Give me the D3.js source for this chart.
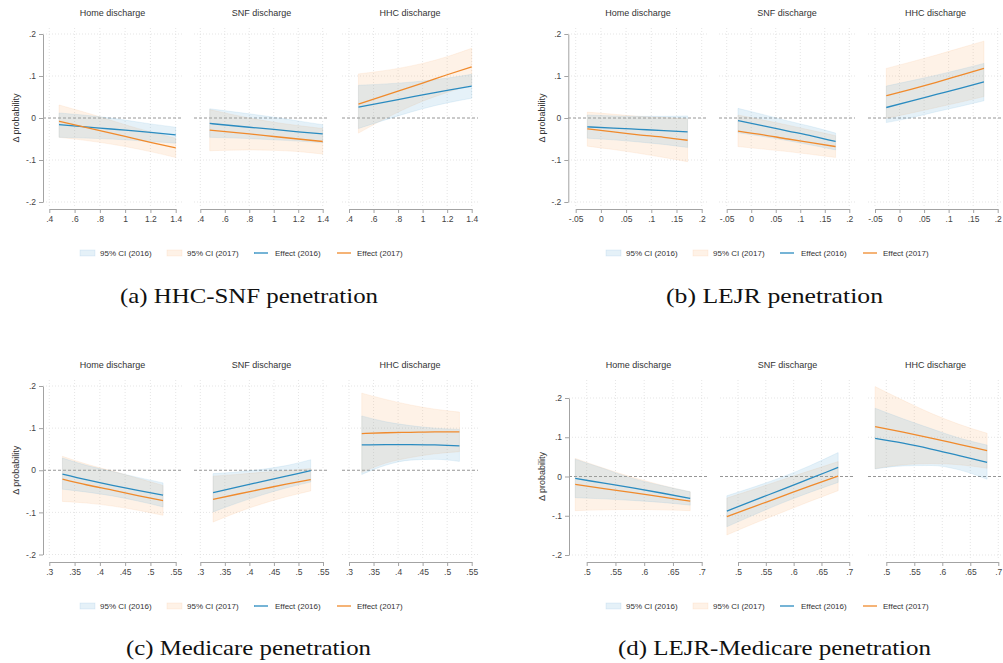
<!DOCTYPE html>
<html>
<head>
<meta charset="utf-8">
<script src="https://cdn.jsdelivr.net/npm/d3@7"></script>
<style>
  body { margin: 0; background: #fff; }
  svg { display: block; }
  text { font-family: "Liberation Sans", Arial, sans-serif; }
</style>
</head>
<body>
<svg id="chart" width="1003" height="663"></svg>
<script>
// ---------- data ----------
const subplotTitles = ["Home discharge", "SNF discharge", "HHC discharge"];
const captions = ["(a) HHC-SNF penetration", "(b) LEJR penetration",
                  "(c) Medicare penetration", "(d) LEJR-Medicare penetration"];
const legendLabels = ["95% CI (2016)", "95% CI (2017)", "Effect (2016)", "Effect (2017)"];
const yTicks = [-0.2, -0.1, 0, 0.1, 0.2];

const xTicksA = [0.4, 0.6, 0.8, 1, 1.2, 1.4];
const xTicksB = [-0.05, 0, 0.05, 0.1, 0.15, 0.2];
const xTicksC = [0.3, 0.35, 0.4, 0.45, 0.5, 0.55];
const xTicksD = [0.5, 0.55, 0.6, 0.65, 0.7];

// evaluation points of the penetration measure
const xA = [0.477, 0.8, 1.0, 1.2, 1.4];
const xB = [-0.027, 0.025, 0.075, 0.125, 0.172];
const xC = [0.326, 0.375, 0.425, 0.475, 0.525];
const xD = [0.48, 0.53, 0.58, 0.63, 0.68];

// (a) HHC-SNF penetration
const aHome = { eff16: [-0.016, -0.024, -0.029, -0.034, -0.040],
                lo16:  [-0.046, -0.049, -0.052, -0.056, -0.060],
                hi16:  [0.012, 0.003, -0.005, -0.014, -0.022],
                eff17: [-0.008, -0.030, -0.044, -0.058, -0.071],
                lo17:  [-0.046, -0.058, -0.068, -0.080, -0.094],
                hi17:  [0.031, 0.003, -0.016, -0.033, -0.048] };
const aSnf  = { eff16: [-0.013, -0.022, -0.027, -0.033, -0.038],
                lo16:  [-0.046, -0.049, -0.052, -0.055, -0.059],
                hi16:  [0.022, 0.010, 0.002, -0.007, -0.016],
                eff17: [-0.029, -0.038, -0.044, -0.050, -0.056],
                lo17:  [-0.078, -0.076, -0.077, -0.080, -0.086],
                hi17:  [0.020, 0.000, -0.010, -0.018, -0.025] };
const aHhc  = { eff16: [0.026, 0.044, 0.055, 0.066, 0.076],
                lo16:  [-0.025, 0.005, 0.022, 0.036, 0.047],
                hi16:  [0.078, 0.083, 0.088, 0.095, 0.104],
                eff17: [0.033, 0.064, 0.083, 0.103, 0.122],
                lo17:  [-0.036, 0.014, 0.040, 0.061, 0.079],
                hi17:  [0.105, 0.118, 0.130, 0.146, 0.166] };

// (b) LEJR penetration
const bHome = { eff16: [-0.021, -0.024, -0.027, -0.030, -0.033],
                lo16:  [-0.048, -0.052, -0.057, -0.063, -0.070],
                hi16:  [0.007, 0.005, 0.004, 0.004, 0.005],
                eff17: [-0.026, -0.033, -0.040, -0.046, -0.053],
                lo17:  [-0.067, -0.075, -0.084, -0.094, -0.104],
                hi17:  [0.014, 0.009, 0.004, 0.001, -0.002] };
const bSnf  = { eff16: [-0.006, -0.019, -0.031, -0.043, -0.056],
                lo16:  [-0.035, -0.044, -0.054, -0.065, -0.076],
                hi16:  [0.023, 0.008, -0.007, -0.021, -0.036],
                eff17: [-0.031, -0.040, -0.050, -0.059, -0.068],
                lo17:  [-0.068, -0.074, -0.080, -0.087, -0.094],
                hi17:  [0.007, -0.005, -0.017, -0.030, -0.042] };
const bHhc  = { eff16: [0.025, 0.041, 0.056, 0.071, 0.086],
                lo16:  [-0.011, 0.001, 0.015, 0.028, 0.041],
                hi16:  [0.076, 0.089, 0.102, 0.116, 0.130],
                eff17: [0.053, 0.069, 0.085, 0.102, 0.118],
                lo17:  [-0.001, 0.012, 0.025, 0.038, 0.051],
                hi17:  [0.118, 0.134, 0.150, 0.167, 0.183] };

// (c) Medicare penetration
const cHome = { eff16: [-0.009, -0.023, -0.036, -0.048, -0.059],
                lo16:  [-0.045, -0.052, -0.061, -0.073, -0.087],
                hi16:  [0.029, 0.011, -0.003, -0.017, -0.030],
                eff17: [-0.021, -0.035, -0.047, -0.060, -0.072],
                lo17:  [-0.074, -0.078, -0.085, -0.095, -0.107],
                hi17:  [0.033, 0.014, -0.002, -0.019, -0.036] };
const cSnf  = { eff16: [-0.053, -0.040, -0.027, -0.014, -0.001],
                lo16:  [-0.099, -0.078, -0.059, -0.042, -0.028],
                hi16:  [-0.008, -0.004, 0.002, 0.011, 0.025],
                eff17: [-0.069, -0.057, -0.045, -0.033, -0.022],
                lo17:  [-0.123, -0.100, -0.080, -0.063, -0.049],
                hi17:  [-0.014, -0.010, -0.005, -0.001, 0.004] };
const cHhc  = { eff16: [0.060, 0.061, 0.061, 0.060, 0.058],
                lo16:  [-0.010, 0.012, 0.024, 0.026, 0.021],
                hi16:  [0.129, 0.115, 0.106, 0.100, 0.097],
                eff17: [0.087, 0.089, 0.090, 0.091, 0.091],
                lo17:  [-0.005, 0.017, 0.030, 0.039, 0.044],
                hi17:  [0.183, 0.168, 0.155, 0.145, 0.138] };

// (d) LEJR-Medicare penetration
const dHome = { eff16: [-0.005, -0.017, -0.029, -0.042, -0.056],
                lo16:  [-0.054, -0.057, -0.061, -0.066, -0.073],
                hi16:  [0.044, 0.020, -0.005, -0.023, -0.039],
                eff17: [-0.020, -0.031, -0.041, -0.052, -0.063],
                lo17:  [-0.087, -0.085, -0.084, -0.085, -0.087],
                hi17:  [0.046, 0.021, -0.002, -0.022, -0.039] };
const dSnf  = { eff16: [-0.088, -0.060, -0.033, -0.005, 0.023],
                lo16:  [-0.128, -0.097, -0.067, -0.040, -0.015],
                hi16:  [-0.049, -0.026, -0.001, 0.028, 0.061],
                eff17: [-0.102, -0.076, -0.050, -0.024, 0.001],
                lo17:  [-0.149, -0.119, -0.091, -0.063, -0.036],
                hi17:  [-0.055, -0.032, -0.008, 0.015, 0.038] };
const dHhc  = { eff16: [0.097, 0.085, 0.070, 0.053, 0.036],
                lo16:  [0.019, 0.027, 0.028, 0.017, -0.007],
                hi16:  [0.174, 0.147, 0.122, 0.098, 0.080],
                eff17: [0.127, 0.113, 0.098, 0.082, 0.066],
                lo17:  [0.020, 0.030, 0.033, 0.030, 0.021],
                hi17:  [0.229, 0.194, 0.161, 0.133, 0.110] };

// ---------- layout of the four panels ----------
const panels = [
  { x: xA, ticks: xTicksA, subs: [aHome, aSnf, aHhc], caption: captions[0],
    yAxisX: 43, yRange: [202, 34], top: 28, bottom: 206, axisY: 209, titleY: 16, yTitleX: 16,
    tickPx: [[49.3, 175.7], [200.3, 322.7], [349, 471.7]],
    region: [[43, 182], [194, 329], [342, 478]],
    legendDx: 0, legendY: 253, capX: 249, capY: 303, capW: 258 },
  { x: xB, ticks: xTicksB, subs: [bHome, bSnf, bHhc], caption: captions[1],
    yAxisX: 568.3, yRange: [202, 34], top: 28, bottom: 206, axisY: 209, titleY: 16, yTitleX: 542,
    tickPx: [[575.7, 701.7], [726.7, 849.3], [875, 997.7]],
    region: [[568, 708], [719, 855], [868, 1003]],
    legendDx: 526, legendY: 253, capX: 774.5, capY: 303, capW: 217 },
  { x: xC, ticks: xTicksC, subs: [cHome, cSnf, cHhc], caption: captions[2],
    yAxisX: 43, yRange: [554.5, 386], top: 380, bottom: 558, axisY: 562, titleY: 368, yTitleX: 16,
    tickPx: [[49.3, 175.7], [200.3, 323], [349, 471.7]],
    region: [[43, 182], [194, 329], [342, 478]],
    legendDx: 0, legendY: 606, capX: 248.5, capY: 655, capW: 245 },
  { x: xD, ticks: xTicksD, subs: [dHome, dSnf, dHhc], caption: captions[3],
    yAxisX: 569, yRange: [555, 398], top: 380, bottom: 558, axisY: 562, titleY: 368, yTitleX: 542,
    tickPx: [[586.7, 701.7], [738, 849.3], [886.3, 998.3]],
    region: [[569, 708], [720, 855], [868, 1003]],
    legendDx: 526, legendY: 606, capX: 774.5, capY: 655, capW: 313 }
];

// ---------- styles ----------
const col16 = "#2a8bc0", col17 = "#f08a2c";
const band16 = "rgb(100,172,215)", band17 = "rgb(250,178,115)";
const op16 = 0.17, op17 = 0.17;
const axisCol = "#a3a3a3", gridCol = "#dedede", textCol = "#444";

const fmt = d => d === 0 ? "0" : String(+d.toFixed(3)).replace(/^(-?)0\./, "$1.");

const svg = d3.select("#chart");

panels.forEach(p => {
  const g = svg.append("g");
  const y = d3.scaleLinear().domain([-0.2, 0.2]).range(p.yRange);

  p.subs.forEach((s, i) => {
    const x = d3.scaleLinear().domain([p.ticks[0], p.ticks[p.ticks.length - 1]]).range(p.tickPx[i]);
    const [rx0, rx1] = p.region[i];
    const sg = g.append("g");

    // dotted grid
    sg.selectAll(".vg").data(p.ticks).join("line")
      .attr("x1", d => x(d)).attr("x2", d => x(d))
      .attr("y1", p.top).attr("y2", p.bottom)
      .attr("stroke", gridCol).attr("stroke-width", 0.8).attr("stroke-dasharray", "1,2");
    sg.selectAll(".hg").data(yTicks.filter(d => d !== 0)).join("line")
      .attr("x1", rx0).attr("x2", rx1)
      .attr("y1", d => y(d)).attr("y2", d => y(d))
      .attr("stroke", gridCol).attr("stroke-width", 0.8).attr("stroke-dasharray", "1,2");

    // zero reference line
    sg.append("line")
      .attr("x1", rx0).attr("x2", rx1).attr("y1", y(0)).attr("y2", y(0))
      .attr("stroke", "#8a8a8a").attr("stroke-width", 0.9).attr("stroke-dasharray", "3,2");

    const idx = d3.range(p.x.length);
    const area = (lo, hi) => d3.area()
      .x(j => x(p.x[j])).y0(j => y(lo[j])).y1(j => y(hi[j]))
      .curve(d3.curveMonotoneX)(idx);
    const line = v => d3.line()
      .x(j => x(p.x[j])).y(j => y(v[j]))
      .curve(d3.curveMonotoneX)(idx);

    // confidence bands
    sg.append("path").attr("d", area(s.lo17, s.hi17))
      .attr("fill", band17).attr("fill-opacity", op17)
      .attr("stroke", band17).attr("stroke-opacity", 0.2).attr("stroke-width", 0.7);
    sg.append("path").attr("d", area(s.lo16, s.hi16))
      .attr("fill", band16).attr("fill-opacity", op16)
      .attr("stroke", band16).attr("stroke-opacity", 0.2).attr("stroke-width", 0.7);

    // effect lines
    sg.append("path").attr("d", line(s.eff16))
      .attr("fill", "none").attr("stroke", col16).attr("stroke-width", 1.3);
    sg.append("path").attr("d", line(s.eff17))
      .attr("fill", "none").attr("stroke", col17).attr("stroke-width", 1.3);

    // x axis
    const xa = sg.append("g").attr("transform", `translate(0,${p.axisY})`)
      .call(d3.axisBottom(x).tickValues(p.ticks).tickSize(4).tickSizeOuter(0).tickFormat(fmt));
    xa.select(".domain").attr("stroke", axisCol);
    xa.selectAll(".tick line").attr("stroke", axisCol);
    xa.selectAll(".tick text").attr("fill", textCol).style("font-size", "8.5px");

    // subplot title
    sg.append("text").attr("x", (rx0 + rx1) / 2).attr("y", p.titleY)
      .attr("text-anchor", "middle").attr("fill", "#333").style("font-size", "9px")
      .text(subplotTitles[i]);
  });

  // shared y axis
  const ya = g.append("g").attr("transform", `translate(${p.yAxisX},0)`)
    .call(d3.axisLeft(y).tickValues(yTicks).tickSize(4).tickSizeOuter(0).tickFormat(fmt));
  ya.select(".domain").attr("stroke", axisCol);
  ya.selectAll(".tick line").attr("stroke", axisCol);
  ya.selectAll(".tick text").attr("fill", textCol).style("font-size", "8.5px");

  g.append("text")
    .attr("transform", `translate(${p.yTitleX},${y(0)}) rotate(-90)`)
    .attr("text-anchor", "middle").attr("dy", "0.35em")
    .attr("fill", "#333").style("font-size", "9px")
    .text("\u0394 probability");

  // legend
  const lg = g.append("g").attr("transform", `translate(${p.legendDx},${p.legendY})`);
  const items = [
    { kind: "band", c: band16, op: op16, x0: 80, tx: 100 },
    { kind: "band", c: band17, op: op17, x0: 167, tx: 187 },
    { kind: "line", c: col16, x0: 254, tx: 275 },
    { kind: "line", c: col17, x0: 337, tx: 357 }
  ];
  items.forEach((it, k) => {
    if (it.kind === "band") {
      lg.append("rect").attr("x", it.x0).attr("y", -3).attr("width", 15).attr("height", 6)
        .attr("fill", it.c).attr("fill-opacity", it.op)
        .attr("stroke", it.c).attr("stroke-opacity", 0.2).attr("stroke-width", 0.7);
    } else {
      lg.append("line").attr("x1", it.x0).attr("x2", it.x0 + 14).attr("y1", 0).attr("y2", 0)
        .attr("stroke", it.c).attr("stroke-width", 1.3);
    }
    lg.append("text").attr("x", it.tx).attr("y", 0).attr("dy", "0.35em")
      .attr("fill", "#333").style("font-size", "8px").text(legendLabels[k]);
  });

  // caption
  g.append("text").attr("x", p.capX).attr("y", p.capY)
    .attr("text-anchor", "middle").attr("fill", "#111")
    .style("font-family", "'Liberation Serif', 'DejaVu Serif', serif")
    .style("font-size", "21px")
    .attr("textLength", p.capW).attr("lengthAdjust", "spacingAndGlyphs")
    .text(p.caption);
});
</script>
</body>
</html>
